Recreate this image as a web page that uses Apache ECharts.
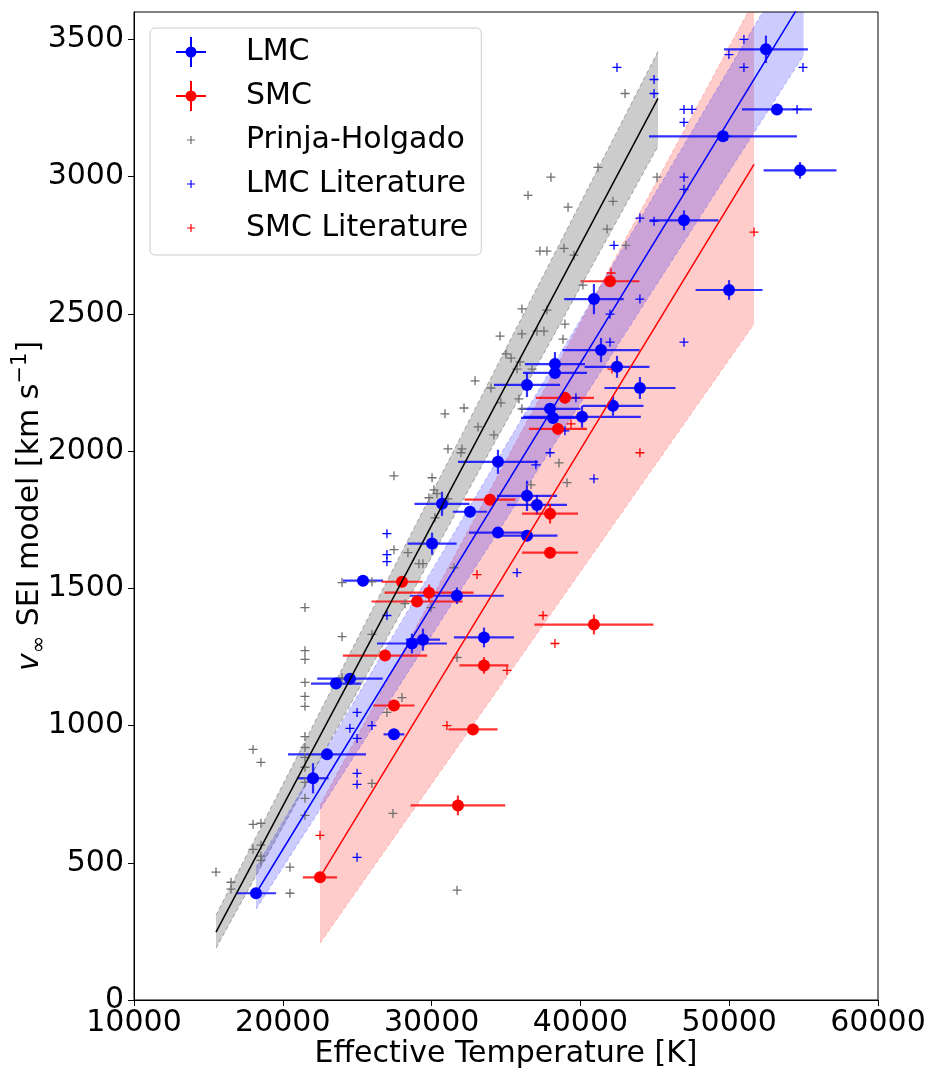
<!DOCTYPE html>
<html lang="en">
<head>
<meta charset="UTF-8">
<title>Terminal velocity vs effective temperature</title>
<script src="https://cdn.jsdelivr.net/npm/echarts@6.0.0/dist/echarts.min.js"></script>
<style>
  html, body { margin: 0; padding: 0; background: #fff; }
  #chart { width: 936px; height: 1080px; }
</style>
</head>
<body>
<div id="chart"></div>
<script>
// LMC sample: Teff [K], vinf [km/s], errors
const lmcTeff = [18200, 22030, 22970, 23575, 24515, 25390, 27470, 28680, 29420, 30030, 30700, 31700,
  32580, 33520, 34460, 34460, 36410, 36410, 37080, 36410, 38290, 38290, 41385, 37960, 38160, 40110,
  42190, 44000, 42460, 40910, 46960, 49990, 54760, 49580, 53210, 52470];
const lmcVinf = [389, 808, 895, 1153, 1171, 1528, 968, 1299, 1313, 1663, 1808, 1473,
  1779, 1321, 1961, 1703, 2241, 1837, 1804, 1692, 2317, 2285, 2368, 2154, 2121, 2125,
  2165, 2230, 2307, 2554, 2841, 2587, 3023, 3147, 3245, 3464];
const lmcTerr = [1350, 1050, 2620, 1680, 2200, 1350, 700, 2350, 1150, 1650, 1850, 3150,
  1150, 2020, 2690, 1950, 2220, 2020, 2020, 2050, 2020, 2150, 2600, 2050, 2150, 3950,
  2050, 2390, 2180, 2000, 2320, 2250, 2450, 4970, 2350, 2820];
const lmcVerr = [20, 55, 20, 20, 20, 20, 20, 36, 40, 40, 44, 30,
  20, 36, 44, 20, 44, 55, 36, 20, 44, 20, 44, 20, 20, 40,
  36, 40, 40, 55, 36, 36, 30, 20, 20, 50];

// SMC sample
const smcTeff = [22500, 31770, 32780, 27470, 33520, 26870, 40910, 29020, 29830, 28010, 33925,
  37960, 37960, 38490, 38960, 41990];
const smcVinf = [447, 709, 986, 1073, 1219, 1255, 1368, 1452, 1484, 1524, 1823,
  1772, 1630, 2081, 2194, 2619];
const smcTerr = [1150, 3180, 1650, 1380, 1650, 2830, 4000, 3060, 2990, 1380, 1710,
  1880, 1880, 1950, 1950, 1980];
const smcVerr = [20, 36, 20, 20, 30, 20, 36, 20, 30, 20, 20,
  36, 20, 20, 20, 20];

// Prinja-Holgado Galactic stars
const phTeff = [15510, 16520, 16520, 18000, 18530, 18000, 18530, 18530, 18530, 20480, 20480, 18000,
  18530, 21490, 23980, 25990, 23980, 25990, 21490, 21490, 21490, 21490, 21490, 21490, 21490, 21490,
  21490, 21490, 21490, 21490, 23980, 25990, 32920, 32180, 30900, 34660, 33990, 33120, 34190, 31100,
  32040, 31970, 27470, 30030, 30160, 30360, 29820, 31100, 30230, 27470, 28410, 29150, 29420, 31500,
  28210, 29960, 28010, 27000, 31710, 38560, 39100, 36680, 41180, 38020, 36480, 39170, 42190, 41790,
  38900, 37280, 37750, 39570, 45150, 43060, 40170, 36070, 37750, 34600, 36070, 37080, 37550, 38960,
  38830, 35000, 35340, 35940, 36750, 35740, 35870, 36070, 43000, 27400, 31710];
const phVinf = [466, 429, 404, 640, 644, 549, 564, 524, 509, 484, 389, 913,
  866, 1430, 1521, 1524, 1324, 1332, 1273, 1241, 1157, 1106, 1070, 960, 920, 884,
  848, 793, 735, 673, 1175, 789, 2256, 2157, 2136, 2176, 2230, 2088, 2059, 2008,
  2008, 1994, 1910, 1903, 1859, 1845, 1830, 1826, 1757, 1641, 1630, 1590, 1590, 1575,
  1444, 1430, 1102, 1048, 1248, 1957, 1885, 1877, 3034, 2998, 2932, 2889, 2910, 2809,
  2739, 2729, 2729, 2714, 2998, 2750, 2605, 2518, 2514, 2419, 2427, 2437, 2437, 2463,
  2408, 2354, 2339, 2325, 2299, 2299, 2190, 2154, 3303, 680, 400];

// literature values
const lmcLitTeff = [50990, 49980, 50990, 54960, 42460, 44950, 44950, 46960, 47500, 46960, 54560, 49850,
  46960, 46960, 44000, 44950, 42260, 44000, 41990, 46960, 41990, 39700, 38960, 37960, 37010, 40910,
  27000, 27000, 27000, 35740, 27000, 24990, 24510, 25990, 24990, 24990, 24990, 24990];
const lmcLitVinf = [3500, 3445, 3398, 3398, 3398, 3354, 3303, 3245, 3245, 3198, 3245, 3147,
  2998, 2954, 2849, 2838, 2750, 2554, 2499, 2397, 2397, 2194, 2074, 1994, 1950, 1899,
  1699, 1623, 1597, 1557, 1401, 1048, 990, 1000, 953, 826, 786, 520];
const smcLitTeff = [51670, 42060, 42120, 39370, 44000, 33050, 37490, 38290, 35070, 31030, 22500];
const smcLitVinf = [2798, 2649, 2299, 2099, 1994, 1550, 1401, 1299, 1201, 1000, 600];

// linear fits (end points) and their uncertainty bands
const phFitT = [15510, 45215], phFitV = [247, 3285], phLow = [189, 3111], phHigh = [309, 3456];
const lmcFitT = [18200, 55000], lmcFitV = [389, 3650], lmcLow = [331, 3442], lmcHigh = [484, 3851];
const smcFitT = [22500, 51670], smcFitV = [448, 3045], smcLow = [207, 2463], smcHigh = [709, 3641];

const FONT = 'DejaVu Sans';
const zip = (a, b) => a.map((v, i) => [v, b[i]]);

// legend icons drawn in a 66x30 box (tiny corner triangles fix the box size)
const corners = 'M0,0 L0.01,0 L0,0.01 Z M66,30 L65.99,30 L66,29.99 Z ';
const crossIcon = 'path://' + corners +
  'M1,14 L31,14 L31,16 L1,16 Z M15,0 L17,0 L17,30 L15,30 Z M16,9.5 A5.5,5.5 0 1,1 15.99,9.5 Z';
const plusIcon = 'path://' + corners +
  'M12,14.4 L20,14.4 L20,15.6 L12,15.6 Z M15.4,11 L16.6,11 L16.6,19 L15.4,19 Z';
const plusSymbol = 'path://M0,3.85 L9,3.85 L9,5.15 L0,5.15 Z M3.85,0 L5.15,0 L5.15,9 L3.85,9 Z';

function errorBars(color) {
  return function (params, api) {
    const x = api.value(0), y = api.value(1), xe = api.value(2), ye = api.value(3);
    const l = api.coord([x - xe, y]), r = api.coord([x + xe, y]);
    const b = api.coord([x, y - ye]), t = api.coord([x, y + ye]);
    const style = { stroke: color, lineWidth: 2.2 };
    return {
      type: 'group',
      children: [
        { type: 'line', shape: { x1: l[0], y1: l[1], x2: r[0], y2: r[1] }, style: style },
        { type: 'line', shape: { x1: b[0], y1: b[1], x2: t[0], y2: t[1] }, style: style }
      ]
    };
  };
}

function bandShape(fill, edge) {
  return function (params, api) {
    const lo0 = api.coord([api.value(0), api.value(1)]);
    const hi0 = api.coord([api.value(0), api.value(2)]);
    const lo1 = api.coord([api.value(3), api.value(4)]);
    const hi1 = api.coord([api.value(3), api.value(5)]);
    const cs = params.coordSys;
    const dash = { stroke: edge, lineWidth: 1, lineDash: [4, 3], fill: null };
    return {
      type: 'group',
      clipPath: { type: 'rect', shape: { x: cs.x, y: cs.y, width: cs.width, height: cs.height } },
      children: [
        { type: 'polygon', shape: { points: [lo0, lo1, hi1, hi0] }, style: { fill: fill } },
        { type: 'polyline', shape: { points: [lo0, lo1] }, style: dash },
        { type: 'polyline', shape: { points: [hi0, hi1] }, style: dash }
      ]
    };
  };
}

function bandSeries(t, lo, hi, fill, edge) {
  return {
    type: 'custom', silent: true,
    renderItem: bandShape(fill, edge),
    data: [[t[0], lo[0], hi[0], t[1], lo[1], hi[1]]]
  };
}

function fitSeries(t, v, color) {
  return {
    type: 'line', silent: true, symbol: 'none',
    lineStyle: { color: color, width: 1.5 },
    data: zip(t, v)
  };
}

const chart = echarts.init(document.getElementById('chart'));

chart.setOption({
  animation: false,
  backgroundColor: '#fff',
  textStyle: { fontFamily: FONT },
  grid: {
    left: 134, right: 58, top: 12, bottom: 80,
    outerBoundsMode: 'none', containLabel: false,
    show: true, borderColor: '#000', borderWidth: 1
  },
  legend: {
    left: 150, top: 28, orient: 'vertical',
    padding: [9, 13, 12, 25],
    itemWidth: 66, itemHeight: 30, itemGap: 14,
    borderColor: '#cccccc', borderWidth: 1, borderRadius: 5,
    backgroundColor: 'rgba(255,255,255,0.8)',
    textStyle: { fontFamily: FONT, fontSize: 30, color: '#000' },
    data: [
      { name: 'LMC', icon: crossIcon },
      { name: 'SMC', icon: crossIcon },
      { name: 'Prinja-Holgado', icon: plusIcon },
      { name: 'LMC Literature', icon: plusIcon },
      { name: 'SMC Literature', icon: plusIcon }
    ]
  },
  xAxis: {
    type: 'value', min: 10000, max: 60000, interval: 10000,
    name: 'Effective Temperature [K]', nameLocation: 'middle', nameGap: 39,
    nameMoveOverlap: false,
    nameTextStyle: { fontFamily: FONT, fontSize: 30, color: '#000' },
    axisLine: { lineStyle: { color: '#000' } },
    axisTick: { length: 6, lineStyle: { color: '#000' } },
    axisLabel: { fontFamily: FONT, fontSize: 30, color: '#000', margin: 8, formatter: v => String(v) },
    splitLine: { show: false }
  },
  yAxis: {
    type: 'value', min: 0, max: 3600, interval: 500,
    name: '{it|v}{sub|∞} SEI model [km s{sup|−1}]',
    nameLocation: 'middle', nameRotate: 90, nameGap: 84,
    nameMoveOverlap: false,
    nameTextStyle: {
      fontFamily: FONT, fontSize: 30, color: '#000', lineHeight: 40,
      rich: {
        it: { fontFamily: FONT, fontSize: 30, fontStyle: 'italic', color: '#000' },
        sub: { fontFamily: FONT, fontSize: 21, verticalAlign: 'bottom', color: '#000' },
        sup: { fontFamily: FONT, fontSize: 21, verticalAlign: 'top', color: '#000' }
      }
    },
    axisLine: { lineStyle: { color: '#000' } },
    axisTick: { length: 6, lineStyle: { color: '#000' } },
    axisLabel: {
      fontFamily: FONT, fontSize: 30, color: '#000', margin: 10, showMaxLabel: false,
      formatter: v => (v % 500 === 0 ? String(v) : '')
    },
    splitLine: { show: false }
  },
  series: [
    bandSeries(phFitT, phLow, phHigh, 'rgba(128,128,128,0.4)', 'rgba(110,110,110,0.6)'),
    bandSeries(smcFitT, smcLow, smcHigh, 'rgba(255,0,0,0.2)', 'rgba(255,80,80,0.35)'),
    bandSeries(lmcFitT, lmcLow, lmcHigh, 'rgba(0,0,255,0.2)', 'rgba(60,60,255,0.35)'),
    fitSeries(phFitT, phFitV, '#000'),
    fitSeries(lmcFitT, lmcFitV, '#0000ff'),
    fitSeries(smcFitT, smcFitV, '#ff0000'),
    {
      name: 'Prinja-Holgado', type: 'scatter', symbol: plusSymbol, symbolSize: 9,
      itemStyle: { color: '#6f6f6f', opacity: 1 }, data: zip(phTeff, phVinf)
    },
    {
      name: 'LMC Literature', type: 'scatter', symbol: plusSymbol, symbolSize: 9,
      itemStyle: { color: '#0000ff', opacity: 1 }, data: zip(lmcLitTeff, lmcLitVinf)
    },
    {
      name: 'SMC Literature', type: 'scatter', symbol: plusSymbol, symbolSize: 9,
      itemStyle: { color: '#ff0000', opacity: 1 }, data: zip(smcLitTeff, smcLitVinf)
    },
    {
      type: 'custom', silent: true, renderItem: errorBars('rgba(0,0,255,0.8)'),
      encode: { x: 0, y: 1 },
      data: lmcTeff.map((t, i) => [t, lmcVinf[i], lmcTerr[i], lmcVerr[i]])
    },
    {
      type: 'custom', silent: true, renderItem: errorBars('rgba(255,0,0,0.8)'),
      encode: { x: 0, y: 1 },
      data: smcTeff.map((t, i) => [t, smcVinf[i], smcTerr[i], smcVerr[i]])
    },
    {
      name: 'LMC', type: 'scatter', symbol: 'circle', symbolSize: 12,
      itemStyle: { color: '#0000ff', opacity: 1 }, data: zip(lmcTeff, lmcVinf)
    },
    {
      name: 'SMC', type: 'scatter', symbol: 'circle', symbolSize: 12,
      itemStyle: { color: '#ff0000', opacity: 1 }, data: zip(smcTeff, smcVinf)
    }
  ]
});
</script>
</body>
</html>
